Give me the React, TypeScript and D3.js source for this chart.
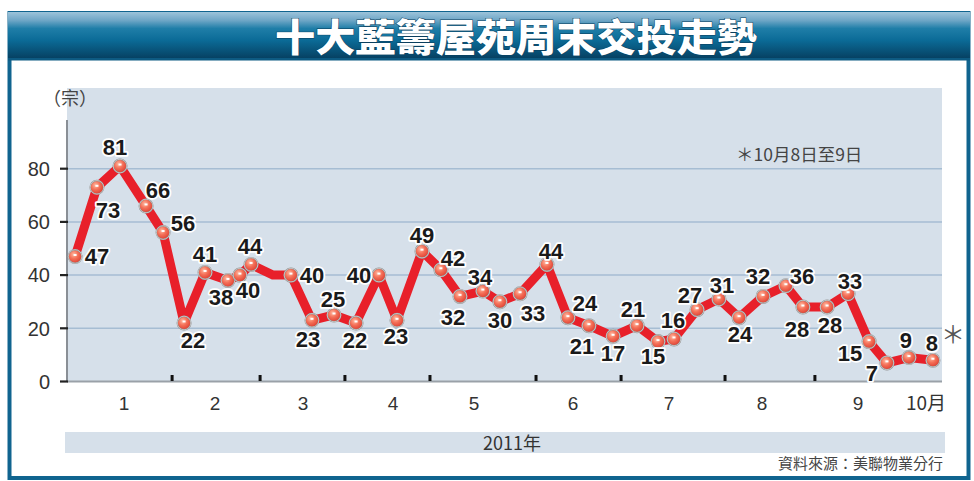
import React from "react";
import * as d3 from "d3";

// ---- data ----
const values = [47, 73, 81, 66, 56, 22, 41, 38, 40, 44, 40, 40, 23, 25, 22, 40, 23, 49, 42, 32, 34, 30, 33, 44, 24, 21, 17, 21, 15, 16, 27, 31, 24, 32, 36, 28, 28, 33, 15, 7, 9, 8];
const labels = ["47", "73", "81", "66", "56", "22", "41", "38", "40", "44", "", "40", "23", "25", "22", "40", "23", "49", "42", "32", "34", "30", "33", "44", "24", "21", "17", "21", "15", "16", "27", "31", "24", "32", "36", "28", "28", "33", "15", "7", "9", "8"];
// position of each weekend along the time axis (in week units)
const weekPos = [0.48, 1.52, 2.62, 3.86, 4.67, 5.67, 6.67, 7.76, 8.33, 8.86, 9.9, 10.76, 11.76, 12.81, 13.86, 14.95, 15.81, 17.0, 17.9, 18.81, 19.9, 20.71, 21.67, 22.95, 23.95, 24.95, 26.1, 27.24, 28.24, 29.0, 30.1, 31.14, 32.1, 33.24, 34.33, 35.14, 36.29, 37.29, 38.29, 39.14, 40.19, 41.33];
const monthLabels = ["1", "2", "3", "4", "5", "6", "7", "8", "9", "10月"];
const monthLabelPos = [2.81, 7.14, 11.33, 15.62, 19.48, 24.19, 28.76, 33.19, 37.76, 41.0];
const monthBoundaries = [5.1, 9.29, 13.33, 17.38, 22.43, 26.48, 31.43, 35.71];
const yTicks = [0, 20, 40, 60, 80];
const title = "十大藍籌屋苑周末交投走勢";
const unit = "（宗）";
const note = "＊10月8日至9日";
const yearLabel = "2011年";
const source = "資料來源：美聯物業分行";

// label offsets [dx, dy] relative to each marker (layout)
const labelOffsets: [number, number][] = [
  [22, 0], [11, 23], [-5, -19], [12, -16], [20, -9], [9, 17], [0, -18], [-7, 17], [8, 15], [-1, -18],
  [0, 0], [21, 0], [-4, 19], [-1, -16], [-1, 17], [-20, 0], [-1, 16], [0, -16], [12, -12], [-7, 21],
  [-3, -14], [0, 18], [13, 19], [4, -13], [17, -15], [-7, 20], [0, 17], [-4, -17], [-5, 14], [-1, -19],
  [-7, -15], [3, -14], [1, 16], [-5, -20], [16, -10], [-6, 22], [3, 18], [2, -13], [-19, 11], [-15, 10],
  [-3, -17], [-1, -17],
];

const W = 974;
const H = 481;
const plotL = 67;
const plotR = 942;
const x = d3.scaleLinear().domain([0, 42]).range([65, 65 + 42 * 21]);
const y = d3.scaleLinear().domain([0, 80]).range([381.5, 168.7]);

const NUM = "'Liberation Sans', Arial, sans-serif";
const CJK = "'Noto Sans CJK TC', 'Noto Sans CJK SC', sans-serif";

export default function App() {
  const line = d3
    .line<number>()
    .x((_, i) => x(weekPos[i]))
    .y((d) => y(d))
    .curve(d3.curveLinear);
  const path = line(values) || "";

  return (
    <svg
      width={W}
      height={H}
      viewBox={`0 0 ${W} ${H}`}
      style={{ position: "absolute", left: 0, top: 0, background: "#fff" }}
    >
      <defs>
        <linearGradient id="titleGrad" x1="0" y1="0" x2="0" y2="1">
          <stop offset="0" stopColor="#9cc3da" />
          <stop offset="0.18" stopColor="#6ea6c6" />
          <stop offset="0.35" stopColor="#1f7ea8" />
          <stop offset="0.6" stopColor="#0b6b97" />
          <stop offset="1" stopColor="#063f60" />
        </linearGradient>
        <radialGradient id="dotGrad" cx="0.4" cy="0.35" r="0.7">
          <stop offset="0" stopColor="#ffb8a0" />
          <stop offset="0.45" stopColor="#f47058" />
          <stop offset="1" stopColor="#dc3a2e" />
        </radialGradient>
      </defs>

      {/* frame */}
      <rect x={9.5} y={13} width={959} height={465} fill="#fff" stroke="#10648f" strokeWidth={4} />
      <rect x={8} y={12} width={962} height={47} fill="url(#titleGrad)" />
      <rect x={8} y={58} width={962} height={2.5} fill="#0d5a82" />
      <text
        x={516}
        y={51}
        textAnchor="middle"
        fontFamily={CJK}
        fontWeight={900}
        fontSize={38}
        fill="#fff"
        stroke="#0a3f5e"
        strokeWidth={1}
        paintOrder="stroke"
        textLength={482}
        lengthAdjust="spacingAndGlyphs"
      >
        {title}
      </text>

      {/* plot background */}
      <rect x={plotL} y={88} width={plotR - plotL} height={381.5 - 88} fill="#d6e0ea" />
      {yTicks.filter((t) => t > 0).map((t) => (
        <line key={t} x1={plotL} x2={plotR} y1={y(t)} y2={y(t)} stroke="#a6bdd3" strokeWidth={1.5} />
      ))}

      {/* axes */}
      <line x1={plotL} x2={plotL} y1={120} y2={382} stroke="#8a8f96" strokeWidth={2} />
      <line x1={plotL} x2={plotR} y1={381.5} y2={381.5} stroke="#9aa1a8" strokeWidth={2} />
      {yTicks.map((t) => (
        <g key={t}>
          <line x1={60} x2={68} y1={y(t)} y2={y(t)} stroke="#222" strokeWidth={2.2} />
          <text x={50} y={y(t)} dy="0.36em" textAnchor="end" fontFamily={NUM} fontSize={20} fill="#333">
            {t}
          </text>
        </g>
      ))}
      <text x={70} y={105} textAnchor="middle" fontFamily={CJK} fontSize={18} fill="#444">
        {unit}
      </text>
      {monthBoundaries.map((m, i) => (
        <rect key={i} x={x(m) - 1.5} y={375} width={3} height={6} fill="#111" />
      ))}
      {monthLabels.map((m, i) => (
        <text
          key={i}
          x={x(monthLabelPos[i])}
          y={410}
          textAnchor="middle"
          fontFamily={m.length > 1 ? CJK : NUM}
          fontSize={19}
          fill="#333"
        >
          {m}
        </text>
      ))}

      {/* note */}
      <text x={736} y={161} fontFamily={CJK} fontSize={17.5} fill="#444">
        {note}
      </text>

      {/* line */}
      <path d={path} fill="none" stroke="#e8202a" strokeWidth={9} strokeLinejoin="miter" strokeMiterlimit={1.6} />

      {/* markers */}
      {values.map((v, i) =>
        labels[i] === "" ? null : (
          <g key={i} transform={`translate(${x(weekPos[i])},${y(v)})`}>
            <circle r={6.8} fill="url(#dotGrad)" stroke="#8a8a8a" strokeWidth={1.4} />
            <circle r={6.8} fill="none" stroke="#e8e8e8" strokeWidth={0.6} />
            <rect x={-1.5} y={-2.5} width={3} height={2} fill="#fff" />
          </g>
        )
      )}

      {/* value labels */}
      {values.map((v, i) =>
        labels[i] === "" ? null : (
          <text
            key={i}
            x={x(weekPos[i]) + labelOffsets[i][0]}
            y={y(v) + labelOffsets[i][1]}
            dy="0.36em"
            textAnchor="middle"
            fontFamily={NUM}
            fontWeight={700}
            fontSize={22}
            fill="#1a1a1a"
            stroke="#fff"
            strokeWidth={3.5}
            strokeLinejoin="round"
            paintOrder="stroke"
          >
            {labels[i]}
          </text>
        )
      )}
      <text x={953} y={343} textAnchor="middle" fontFamily={CJK} fontSize={24} fill="#555">
        ＊
      </text>

      {/* year band */}
      <rect x={65} y={432} width={880} height={21} fill="#d6e0ea" />
      <text x={512} y={449.5} textAnchor="middle" fontFamily={CJK} fontSize={18} fill="#333">
        {yearLabel}
      </text>

      {/* source */}
      <text x={943} y={469} textAnchor="end" fontFamily={CJK} fontSize={15} fill="#444">
        {source}
      </text>
    </svg>
  );
}
